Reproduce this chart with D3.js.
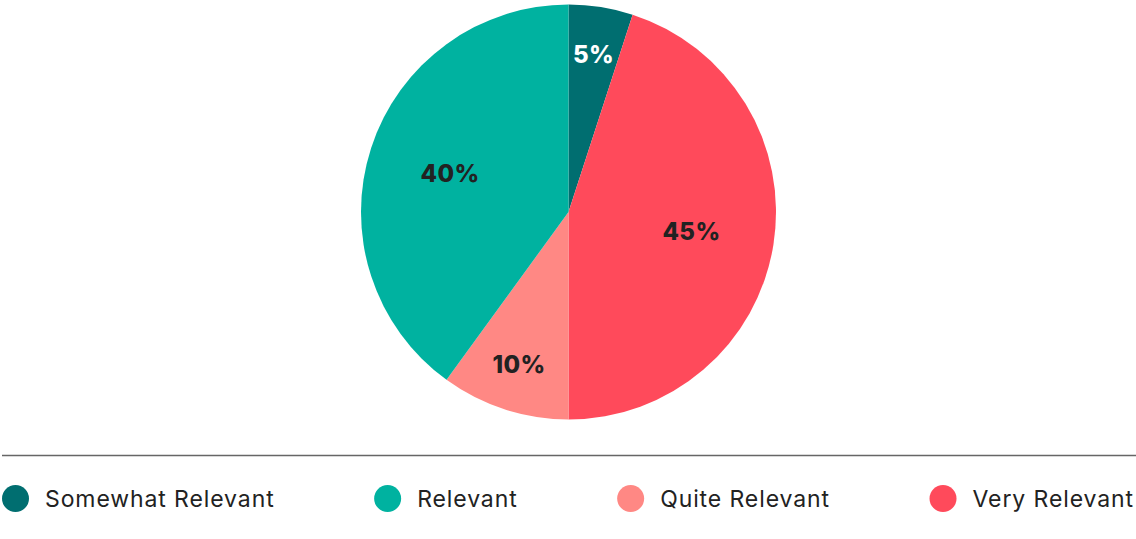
<!DOCTYPE html>
<html>
<head>
<meta charset="utf-8">
<script src="https://cdn.jsdelivr.net/npm/d3@7/dist/d3.min.js"></script>
<style>
  html, body { margin: 0; padding: 0; background: #fff; }
  svg { display: block; }
</style>
</head>
<body>
<svg id="chart" width="1136" height="539"></svg>
<script>
// Survey answers, legend order
const categories = ["Somewhat Relevant", "Relevant", "Quite Relevant", "Very Relevant"];
const shares = [5, 40, 10, 45];
const colors = ["#006E70", "#00B2A0", "#FF8884", "#FF4A5B"];
const labelColors = ["#ffffff", "#222222", "#222222", "#222222"];
// Clockwise order of the slices starting at twelve o'clock
const sliceOrder = ["Somewhat Relevant", "Very Relevant", "Quite Relevant", "Relevant"];

const W = 1136, H = 539;
const cx = 568.5, cy = 212, R = 207.5;

const svg = d3.select("#chart");

const data = categories.map((c, i) => ({
  name: c, value: shares[i], color: colors[i], labelColor: labelColors[i]
}));
const ordered = sliceOrder.map(n => data.find(d => d.name === n));

const pie = d3.pie().sort(null).value(d => d.value);
const arc = d3.arc().innerRadius(0).outerRadius(R);
const arcs = pie(ordered);

const g = svg.append("g").attr("transform", `translate(${cx},${cy})`);

g.selectAll("path.slice")
  .data(arcs)
  .join("path")
  .attr("class", "slice")
  .attr("d", arc)
  .attr("fill", d => d.data.color);

// Labels: small slices get pushed further out toward the rim
const total = d3.sum(ordered, d => d.value);
g.selectAll("text.val")
  .data(arcs)
  .join("text")
  .attr("class", "val")
  .attr("transform", d => {
    const frac = d.data.value / total;
    const r = R * (frac < 0.15 ? 0.77 : 0.6);
    const c = d3.arc().innerRadius(r).outerRadius(r).centroid(d);
    return `translate(${c[0]},${c[1]})`;
  })
  .attr("text-anchor", "middle")
  .attr("dy", "0.36em")
  .attr("font-family", "Inter, 'DejaVu Sans', sans-serif")
  .attr("font-weight", 800)
  .attr("font-size", 24)
  .attr("letter-spacing", 0.4)
  .attr("fill", d => d.data.labelColor)
  .text(d => d.data.value + "%");

// Divider above the legend
svg.append("line")
  .attr("x1", 2).attr("x2", W)
  .attr("y1", 455.5).attr("y2", 455.5)
  .attr("stroke", "#666")
  .attr("stroke-width", 1.3);

// Legend: items spread evenly between the left and right edges
const legendY = 498.5, dotR = 13.5, gap = 16;
const leg = svg.append("g");
const items = leg.selectAll("g.item")
  .data(data)
  .join("g")
  .attr("class", "item");

items.append("circle")
  .attr("r", dotR)
  .attr("cx", dotR)
  .attr("cy", legendY)
  .attr("fill", d => d.color);

items.append("text")
  .attr("x", dotR * 2 + gap)
  .attr("y", legendY)
  .attr("dy", "0.35em")
  .attr("font-family", "Inter, 'DejaVu Sans', sans-serif")
  .attr("font-size", 23)
  .attr("letter-spacing", 0.9)
  .attr("fill", "#222")
  .text(d => d.name);

const widths = [];
items.each(function () { widths.push(this.getBBox().width); });
const left = 2, right = 1134;
const space = (right - left - d3.sum(widths)) / (widths.length - 1);
let x = left;
items.attr("transform", (d, i) => {
  const t = `translate(${x},0)`;
  x += widths[i] + space;
  return t;
});
</script>
</body>
</html>
